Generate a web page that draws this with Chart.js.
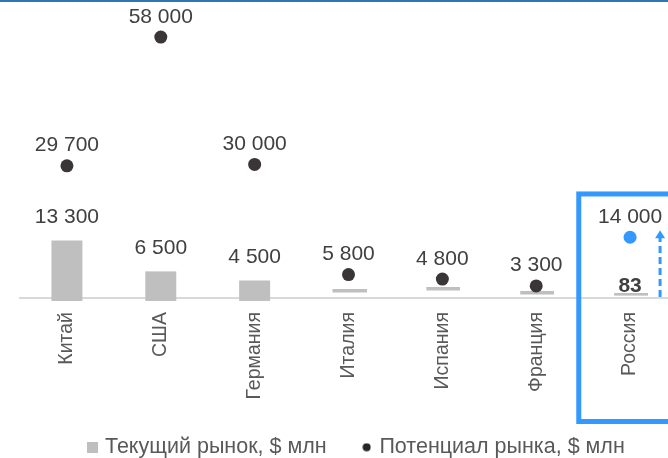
<!DOCTYPE html>
<html lang="ru">
<head>
<meta charset="utf-8">
<script src="https://cdn.jsdelivr.net/npm/chart.js@4.4.1/dist/chart.umd.min.js"></script>
<style>
  html, body { margin: 0; padding: 0; background: #fff; overflow: hidden; width: 668px; height: 458px; }
  #chart { position: absolute; left: 0; top: 0; }
</style>
</head>
<body>
<canvas id="chart" width="696" height="468"></canvas>
<script>
// Market size by country, $ mln
const categories = ['Китай', 'США', 'Германия', 'Италия', 'Испания', 'Франция', 'Россия'];
const currentMarket = [13300, 6500, 4500, 770, 1210, 330, 83];
const potentialMarket = [29700, 58000, 30000, 5800, 4800, 3300, 14000];
const seriesNames = ['Текущий рынок, $ млн', 'Потенциал рынка, $ млн'];
const highlight = 'Россия';
// current values below this are shown as a flat dash instead of a column
const dashBelow = 2500;

const barValues = currentMarket.map(v => v >= dashBelow ? v : null);
const dashValues = currentMarket.map(v => v < dashBelow ? v : null);

const FONT = "'Liberation Sans', Arial, sans-serif";
const GREY = '#bfbfbf';
const DOT = '#3a3536';
const BLUE = '#3399ff';

const fmt = n => String(n).replace(/\B(?=(\d{3})+(?!\d))/g, ' ');

function makeCanvas(w, h, draw) {
  const c = document.createElement('canvas');
  c.width = w; c.height = h;
  draw(c.getContext('2d'));
  return c;
}
// flat dash mark, drawn slightly above its anchor point
const dashMark = makeCanvas(36, 16, g => { g.fillStyle = GREY; g.fillRect(2, 0, 34, 3); });
const legendSquare = makeCanvas(11, 11, g => { g.fillStyle = GREY; g.fillRect(0, 0, 11, 11); });
const legendDot = makeCanvas(9, 9, g => { g.fillStyle = '#262626'; g.beginPath(); g.arc(4.5, 4.5, 4, 0, Math.PI * 2); g.fill(); });

const valueLabels = {
  id: 'valueLabels',
  afterDatasetsDraw(chart) {
    const ctx = chart.ctx;
    ctx.save();
    ctx.textAlign = 'center';
    ctx.textBaseline = 'alphabetic';
    ctx.fillStyle = '#404040';
    chart.data.datasets.forEach((ds, di) => {
      const meta = chart.getDatasetMeta(di);
      meta.data.forEach((el, i) => {
        const v = ds.data[i];
        if (v == null) return;
        let y;
        ctx.font = '21px ' + FONT;
        if (ds.labelKind === 'bar') {
          y = el.y - 17.5;
        } else if (ds.labelKind === 'dot') {
          y = el.y - 14.5;
        } else {
          if (categories[i] !== highlight) return;
          ctx.font = 'bold 21px ' + FONT;
          y = el.y - 9;
        }
        ctx.fillText(fmt(v), el.x, y);
      });
    });
    ctx.restore();
  }
};

const frame = {
  id: 'frame',
  afterDraw(chart) {
    const { ctx, scales: { x, y }, chartArea } = chart;
    const i = categories.indexOf(highlight);
    const cx = x.getPixelForValue(i);
    const py = y.getPixelForValue(potentialMarket[i]);
    ctx.save();
    ctx.fillStyle = '#2e75b6';
    ctx.fillRect(0, 0, chart.width, 2);

    ctx.strokeStyle = BLUE;
    ctx.lineWidth = 5;
    const top = py - 43.3;
    const bottom = chartArea.bottom + 123.5;
    ctx.strokeRect(cx - 51.3, top, 200, bottom - top);

    const ax = cx + 30;
    const tip = py - 7;
    ctx.lineWidth = 3;
    ctx.setLineDash([7, 4]);
    ctx.beginPath();
    ctx.moveTo(ax, chartArea.bottom - 1);
    ctx.lineTo(ax, tip + 7);
    ctx.stroke();
    ctx.setLineDash([]);
    ctx.fillStyle = BLUE;
    ctx.beginPath();
    ctx.moveTo(ax, tip);
    ctx.lineTo(ax - 5, tip + 8);
    ctx.lineTo(ax + 5, tip + 8);
    ctx.closePath();
    ctx.fill();
    ctx.restore();
  }
};

new Chart(document.getElementById('chart'), {
  data: {
    labels: categories,
    datasets: [
      {
        type: 'bar',
        label: seriesNames[0],
        labelKind: 'bar',
        data: barValues,
        backgroundColor: GREY,
        barPercentage: 0.33,
        categoryPercentage: 1,
        clip: false
      },
      {
        type: 'line',
        label: seriesNames[1],
        labelKind: 'dot',
        data: potentialMarket,
        showLine: false,
        pointRadius: 6.5,
        pointHoverRadius: 6.5,
        pointBorderWidth: 0,
        pointBackgroundColor: categories.map(c => c === highlight ? BLUE : DOT),
        clip: false
      },
      {
        type: 'line',
        label: 'dash',
        labelKind: 'dash',
        data: dashValues,
        showLine: false,
        pointStyle: dashMark,
        pointRadius: 18,
        pointHoverRadius: 18,
        clip: false
      }
    ]
  },
  options: {
    responsive: false,
    animation: false,
    events: [],
    layout: { padding: { top: 20, left: 20, right: 1, bottom: 0 } },
    scales: {
      x: {
        offset: true,
        grid: { display: false, drawTicks: false },
        border: { display: true, color: '#d9d9d9', width: 2 },
        ticks: {
          minRotation: 90,
          maxRotation: 90,
          padding: 14,
          color: '#595959',
          font: { family: FONT, size: 19.5 }
        },
        afterFit(scale) { scale.height = 100.5; }
      },
      y: {
        display: false,
        min: 650,
        max: 61750
      }
    },
    plugins: {
      tooltip: { enabled: false },
      legend: {
        position: 'bottom',
        labels: {
          usePointStyle: true,
          boxWidth: 4,
          boxHeight: 11,
          padding: 38,
          color: '#595959',
          font: { family: FONT, size: 21.5 },
          filter: item => item.text !== 'dash',
          generateLabels(chart) {
            const items = Chart.defaults.plugins.legend.labels.generateLabels(chart);
            items.forEach(it => {
              it.pointStyle = it.datasetIndex === 0 ? legendSquare : legendDot;
              it.fontColor = '#595959';
            });
            return items;
          }
        }
      }
    }
  },
  plugins: [valueLabels, frame]
});
</script>
</body>
</html>
